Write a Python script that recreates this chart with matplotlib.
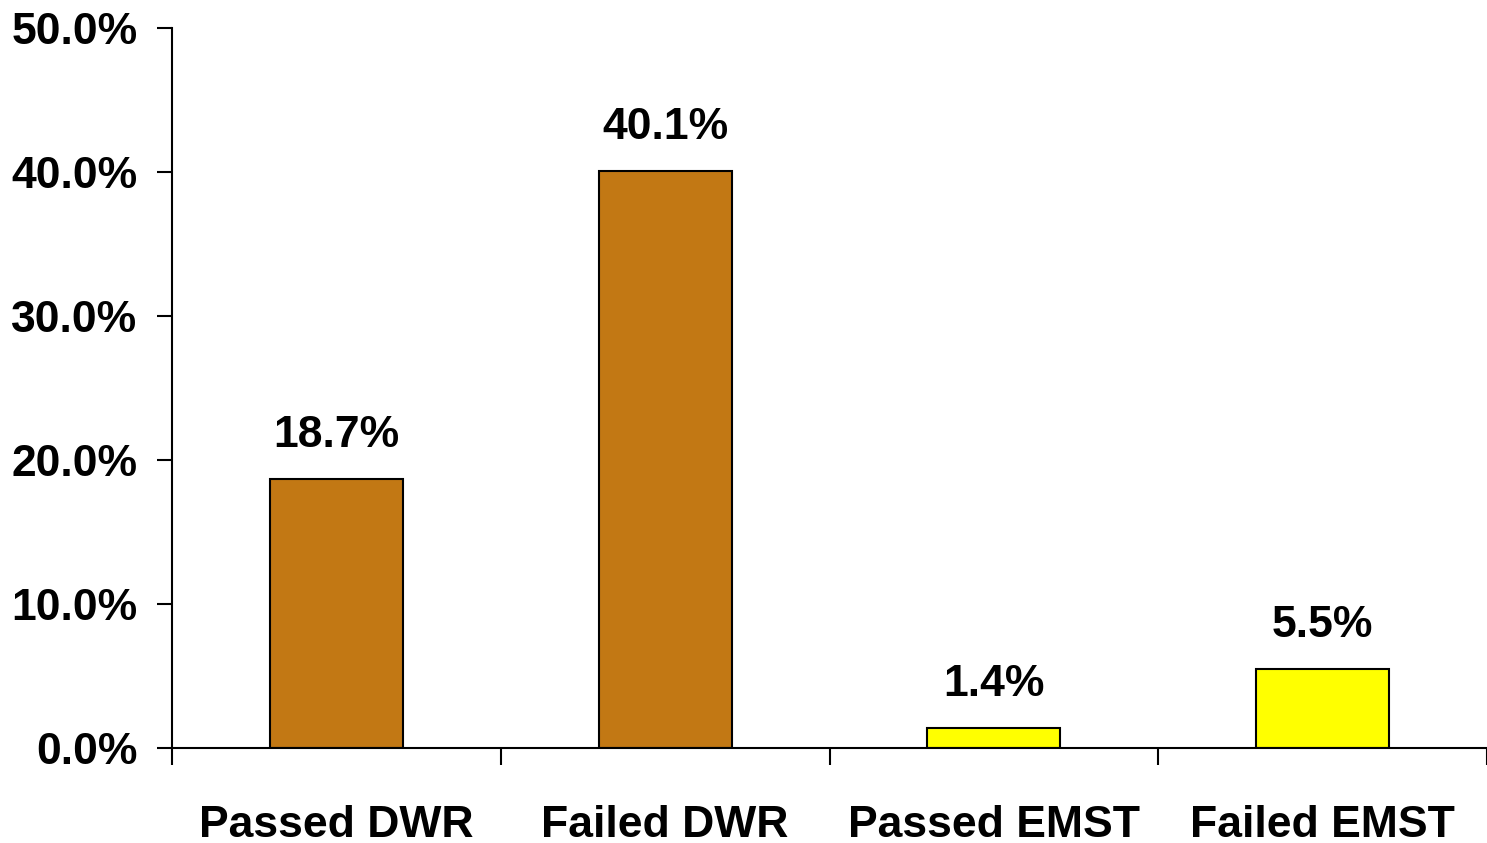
import numpy as np
import matplotlib
matplotlib.use('Agg')
import matplotlib.pyplot as plt
from matplotlib.ticker import FixedLocator, FuncFormatter

# Andel per gruppe (prosent)
categories = ['Passed DWR', 'Failed DWR', 'Passed EMST', 'Failed EMST']
values = [18.7, 40.1, 1.4, 5.5]
colors = ['#C27814', '#C27814', '#FFFF00', '#FFFF00']

plt.rcParams['font.family'] = ['Liberation Sans', 'DejaVu Sans']
plt.rcParams['font.weight'] = 'bold'

fig = plt.figure(figsize=(14.87, 8.43), dpi=100)
ax = fig.add_axes([0.1157, 0.1127, 0.8843, 0.854])

x = np.arange(len(categories))
bars = ax.bar(x, values, width=0.405, color=colors, edgecolor='black', linewidth=1.5, zorder=2)

# Verdier over søylene
for xi, v in zip(x, values):
    ax.text(xi, v + 1.6, f'{v:.1f}%', ha='center', va='bottom', fontsize=32, fontweight='bold')

ax.set_xlim(-0.5, 3.5)
ax.set_ylim(0, 50)
ax.set_yticks(np.arange(0, 51, 10))
ax.yaxis.set_major_formatter(FuncFormatter(lambda v, p: f'{v:.1f}%'))
ax.tick_params(axis='y', direction='out', length=11, width=1.5, pad=14, labelsize=32)

# Kategorinavn i midten, tikker mellom kategoriene
ax.set_xticks(x)
ax.set_xticklabels(categories, fontsize=32, fontweight='bold')
ax.xaxis.set_minor_locator(FixedLocator(np.arange(-0.5, 4, 1.0)))
ax.tick_params(axis='x', which='major', length=0, pad=41)
ax.tick_params(axis='x', which='minor', direction='out', length=12, width=1.5)

for lbl in ax.get_yticklabels():
    lbl.set_fontweight('bold')

ax.spines['top'].set_visible(False)
ax.spines['right'].set_visible(False)
ax.spines['left'].set_linewidth(1.5)
ax.spines['bottom'].set_linewidth(1.5)

fig.savefig('out.png', dpi=100)
